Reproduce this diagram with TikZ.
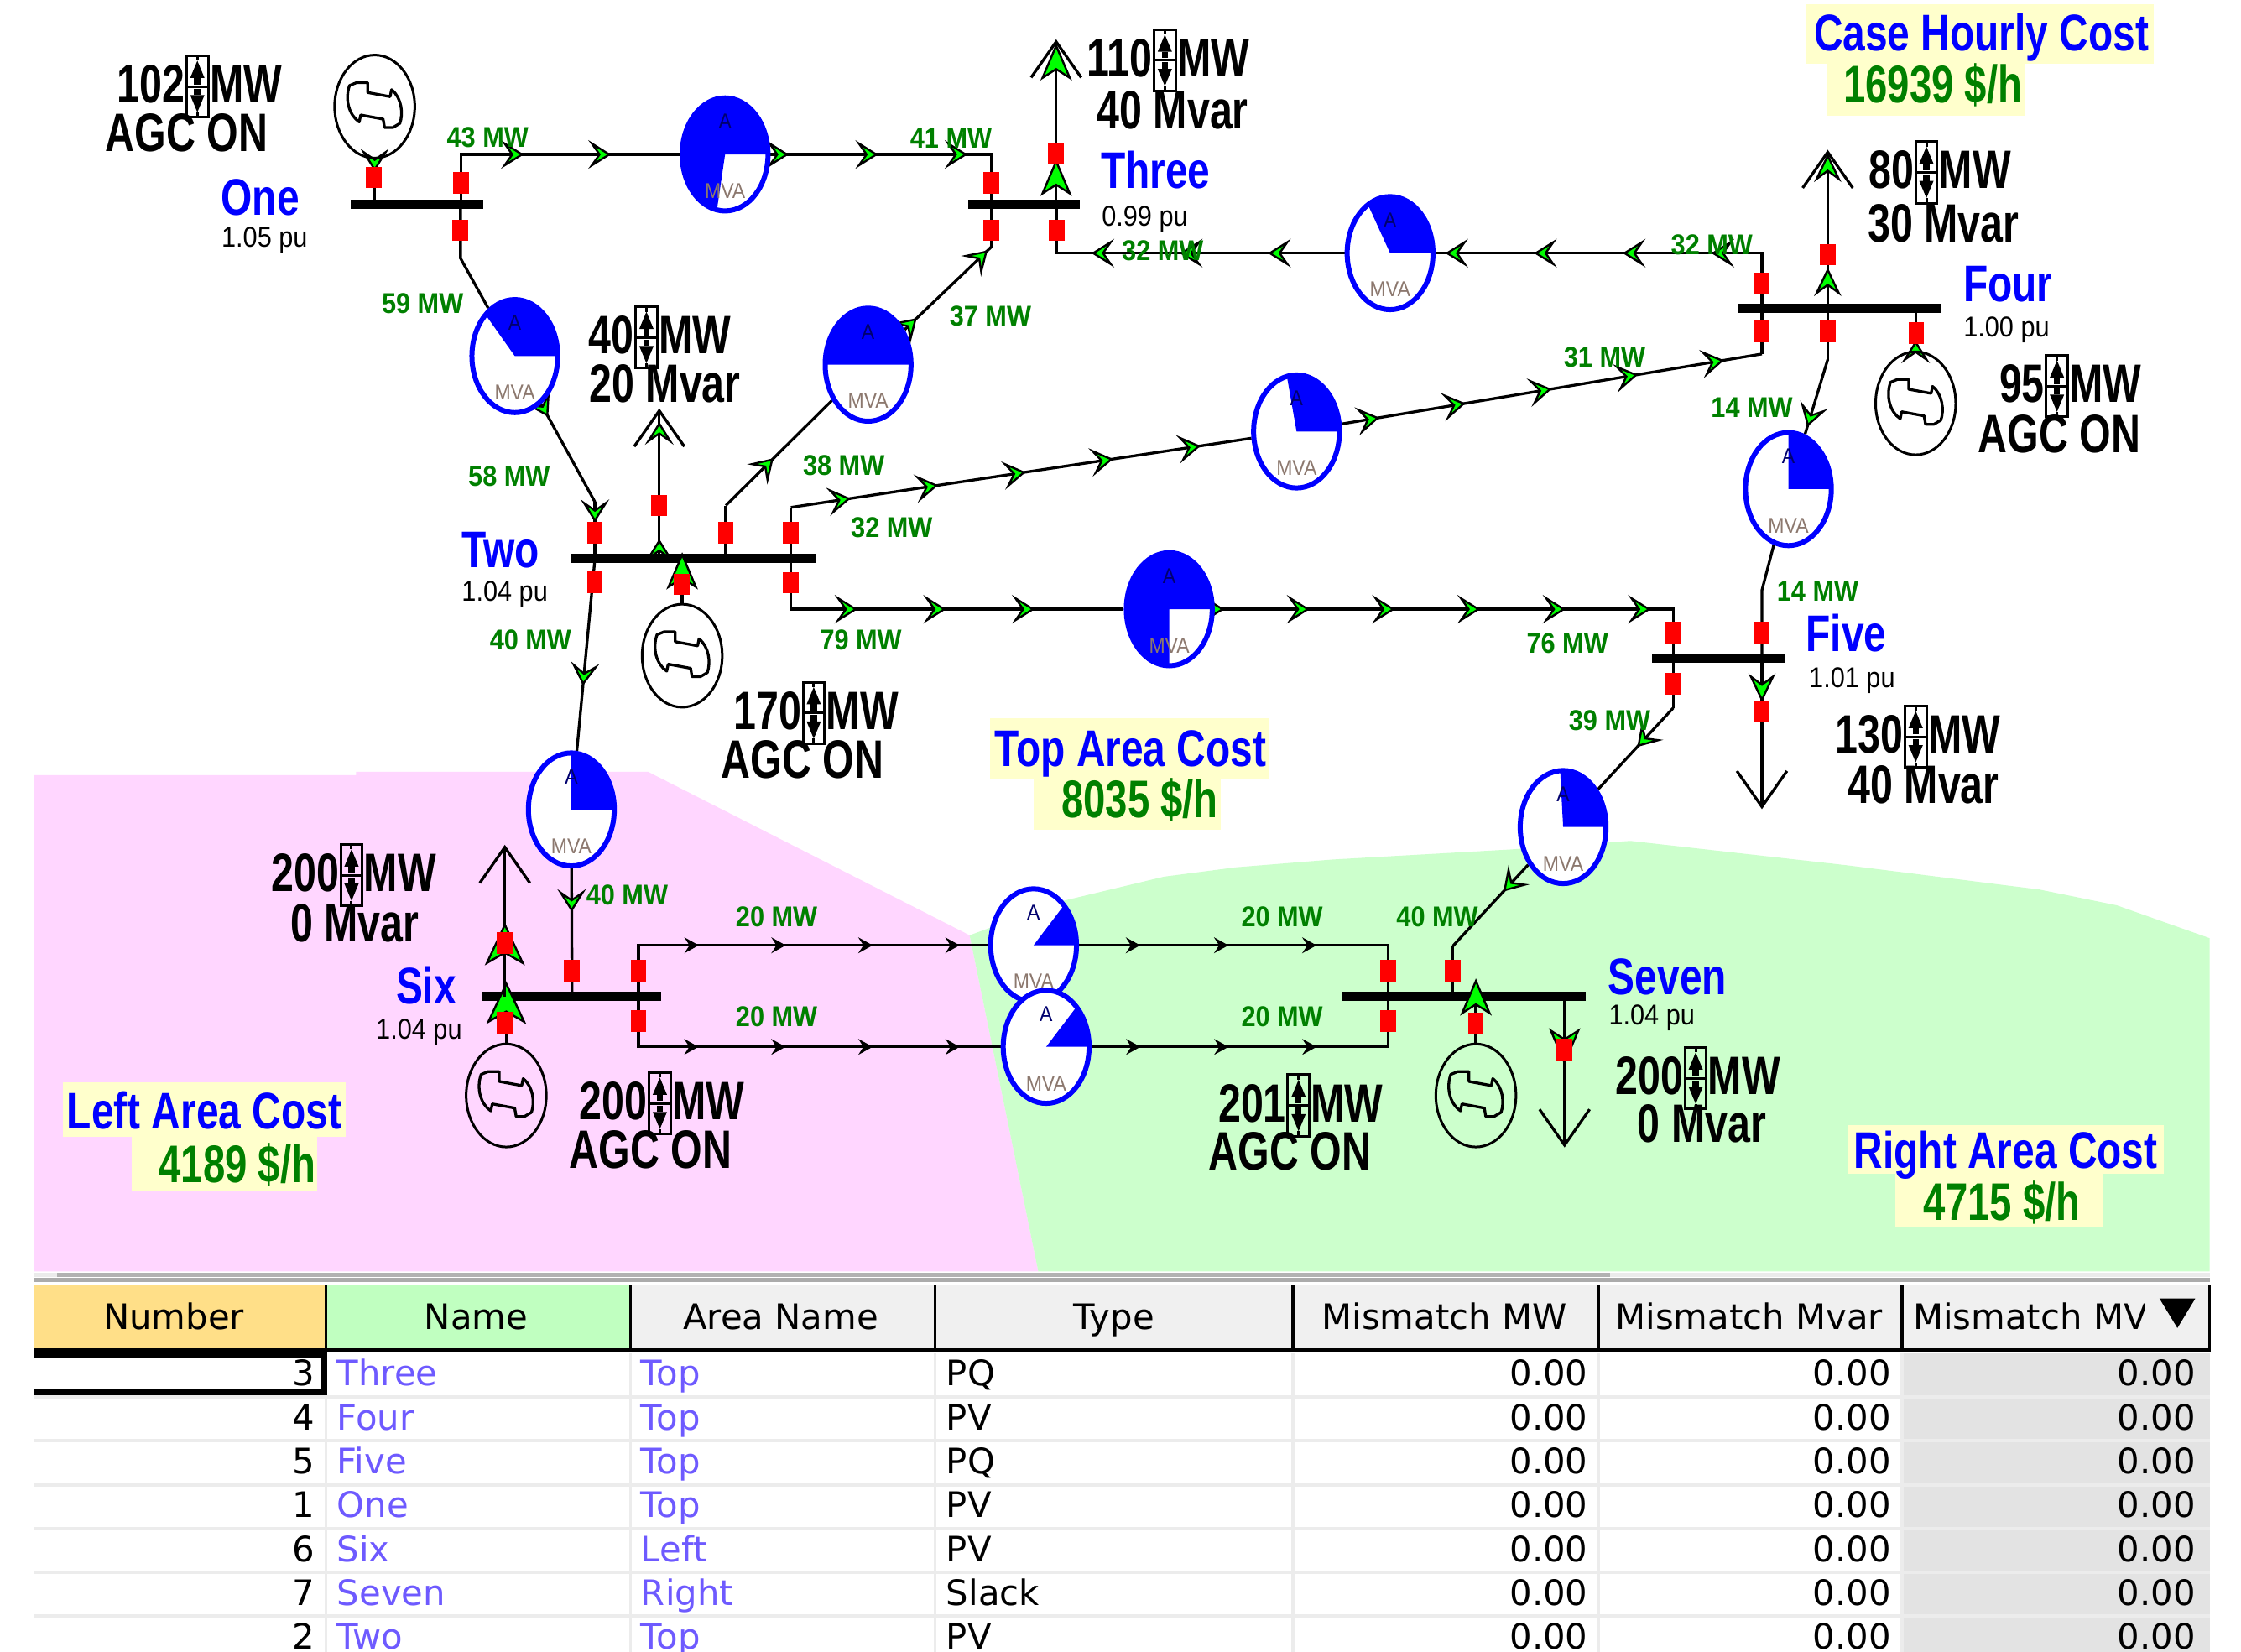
\documentclass[tikz,border=0pt]{standalone}
\usepackage{fontspec}
\newfontfamily\bigfam[FakeStretch=0.75]{Liberation Sans}
\newfontfamily\namefam[FakeStretch=0.78]{Liberation Sans}
\newfontfamily\smallfam[FakeStretch=0.9]{Liberation Sans}
\newfontfamily\tablefam{DejaVu Sans}
\usetikzlibrary{arrows.meta,decorations.markings,shapes.geometric}
\pgfdeclarelayer{bgl}
\pgfdeclarelayer{wl}
\pgfsetlayers{bgl,wl,main}
\definecolor{pwblue}{RGB}{0,0,255}
\definecolor{flowgreen}{RGB}{0,128,0}
\definecolor{arrgreen}{RGB}{0,255,0}
\definecolor{pinkarea}{RGB}{255,214,255}
\definecolor{greenarea}{RGB}{204,255,204}
\definecolor{costbg}{RGB}{255,255,204}
\definecolor{hdrnum}{RGB}{255,223,136}
\definecolor{hdrname}{RGB}{192,255,192}
\definecolor{hdrgray}{RGB}{240,240,240}
\definecolor{colgray}{RGB}{227,227,227}
\definecolor{rowsep}{RGB}{236,236,236}
\definecolor{tblblue}{RGB}{110,90,255}
\definecolor{mvagray}{RGB}{140,120,110}
\definecolor{adark}{RGB}{0,0,110}
\newcommand{\lblf}{\bigfam\bfseries\fontsize{0.378cm}{0.4cm}\selectfont}
\newcommand{\namf}{\namefam\bfseries\fontsize{0.36cm}{0.38cm}\selectfont}
\newcommand{\costf}{\bigfam\bfseries\fontsize{0.37cm}{0.39cm}\selectfont}
\newcommand{\puf}{\smallfam\fontsize{0.2cm}{0.22cm}\selectfont}
\newcommand{\flf}{\smallfam\bfseries\fontsize{0.2cm}{0.22cm}\selectfont}
\newcommand{\tblf}{\tablefam\fontsize{0.245cm}{0.27cm}\selectfont}
\newcommand{\pief}{\smallfam\fontsize{0.15cm}{0.16cm}\selectfont}
\tikzset{
 flowtip/.tip={Stealth[length=0.16cm,width=0.2cm,inset=0.07cm,fill=arrgreen,line width=0.4pt]},
 medtip/.tip={Stealth[length=0.2cm,width=0.19cm,inset=0.07cm,fill=arrgreen,line width=0.4pt]},
 bigtip/.tip={Stealth[length=0.26cm,width=0.22cm,inset=0.07cm,fill=arrgreen,line width=0.4pt]},
 hugetip/.tip={Stealth[length=0.3cm,width=0.28cm,inset=0.08cm,fill=arrgreen,line width=0.4pt]},
 blktip/.tip={Stealth[length=0.1cm,width=0.11cm,inset=0.035cm]},
 loadtip/.tip={Straight Barb[length=0.25cm,width=0.35cm]},
 arrs/.style 2 args={postaction={decorate,decoration={markings,mark=between positions #2 with {\arrow{#1}}}}},
 arr1/.style 2 args={postaction={decorate,decoration={markings,mark=at position #2 with {\arrow{#1}}}}},
 wire/.style={draw=black,line width=0.55pt},
 bus/.style={rectangle,fill=black,inner sep=0pt,minimum height=0.065cm},
 brk/.style={rectangle,fill=red,inner sep=0pt,minimum width=0.11cm,minimum height=0.15cm},
 pie/.style={ellipse,draw=pwblue,line width=1pt,fill=white,inner sep=0pt,minimum width=0.6cm,minimum height=0.79cm},
 gen/.style={ellipse,draw=black,line width=0.5pt,inner sep=0pt,minimum width=0.56cm,minimum height=0.72cm},
 big/.style={font=\lblf,inner sep=0pt},
 bname/.style={font=\namf,text=pwblue,inner sep=0pt,anchor=base},
 pu/.style={font=\puf,inner sep=0pt,anchor=base},
 flow/.style={font=\flf,text=flowgreen,inner sep=0pt,anchor=base},
 costt/.style={font=\namf,text=pwblue,inner sep=0pt,anchor=base},
 costv/.style={font=\costf,text=flowgreen,inner sep=0pt,anchor=base},
 tbl/.style={font=\tblf,inner sep=0pt},
 spin/.pic={
  \draw[line width=0.5pt] (-7.5,-21.5) rectangle (7.5,21.5);
  \fill (0,-18) -- (-5,-6) -- (5,-6) -- cycle;
  \fill (0,18) -- (-5,6) -- (5,6) -- cycle;
  \fill (-2.2,-6) rectangle (2.2,-1.5);
  \fill (-2.2,6) rectangle (2.2,1.5);
  \draw[line width=0.5pt] (0,-21.5) -- (0,-18) (0,21.5) -- (0,18) (-7.5,0) -- (7.5,0);
 },
 gsym/.pic={
  \draw[line width=0.55pt,line join=round] (-17.6,-14.7) -- (-12.7,-16.7) -- (-4.9,-16.7) -- (-4.9,-9.8) -- (10.8,-6.9) -- (11.8,-11.8) .. controls (19,-6) and (20,5) .. (17.6,11.8) -- (12.7,14.7) -- (6.9,14.7) -- (5.9,8.8) -- (-9.8,5.9) -- (-10.8,10.8) .. controls (-18,6) and (-21,-5) .. cycle;
 },
}
\newcommand{\pwedge}[2]{%
 \fill[pwblue] (#1.center) -- ++(0:0.3cm and 0.395cm) arc[start angle=0,end angle=#2,x radius=0.3cm,y radius=0.395cm] -- cycle;
 \node[font=\pief,text=adark,inner sep=0pt] (#1A) at ([yshift=0.23cm]#1.center) {A};
 \node[font=\pief,text=mvagray,inner sep=0pt] (#1M) at ([yshift=-0.255cm]#1.center) {MVA};}
\newcommand{\biglbl}[7]{%
 \node[big,anchor=base east] (#1n) at ({#2-8},#3) {#4};
 \pic at (#2,{#3-11.5}) {spin};
 \node[big,anchor=base west] (#1u) at ({#2+8},#3) {MW};
 \node[big,anchor=base] (#1s) at (#6,#7) {#5};}
\begin{document}
\begin{tikzpicture}[x=0.01cm,y=-0.01cm]
\useasboundingbox (0,0) rectangle (1567,1155);
\clip (0,0) rectangle (1567,1155);
\begin{pgfonlayer}{bgl}
\fill[white] (0,0) rectangle (1567,1155);
\fill[pinkarea] (23.6,542) -- (249,542) -- (249,539.6) -- (453,539.6) -- (678,654) -- (726,889) -- (23.6,889) -- cycle;
\fill[greenarea] (678,654) -- (743,630) -- (814,613) -- (864,606.5) -- (932,601) -- (1056,594) -- (1140,588) -- (1291,605) -- (1426,622) -- (1480,633) -- (1545,656) -- (1545,889) -- (726,889) -- cycle;
\end{pgfonlayer}
% cost backgrounds
\fill[costbg] (1263,3) rectangle (1506,44.5);
\fill[costbg] (1277.6,44.5) rectangle (1416,81);
\fill[costbg] (692,502) rectangle (887.4,545);
\fill[costbg] (722.5,545) rectangle (853.8,580);
\fill[costbg] (43.8,757) rectangle (241.8,795);
\fill[costbg] (92,795) rectangle (222,833);
\fill[costbg] (1292,787) rectangle (1513,821);
\fill[costbg] (1325,821) rectangle (1470,858);
% buses
\node[bus,minimum width=0.93cm] (b1) at (291.5,143) {};
\node[bus,minimum width=1.71cm] (b2) at (484.5,390.5) {};
\node[bus,minimum width=0.78cm] (b3) at (716,143) {};
\node[bus,minimum width=1.42cm] (b4) at (1286,215.5) {};
\node[bus,minimum width=0.93cm] (b5) at (1201.5,460.4) {};
\node[bus,minimum width=1.25cm] (b6) at (399.5,696.7) {};
\node[bus,minimum width=1.71cm] (b7) at (1023.5,696.7) {};
% generators
\node[gen] (g1) at (262,74.5) {}; \pic at (g1) {gsym};
\node[gen] (g2) at (477,458.5) {}; \pic at (g2) {gsym};
\node[gen] (g4) at (1339.5,282) {}; \pic at (g4) {gsym};
\node[gen] (g6) at (354,766) {}; \pic at (g6) {gsym};
\node[gen] (g7) at (1032,766) {}; \pic at (g7) {gsym};
% pies
\node[pie] (p13) at (507,108) {}; \pwedge{p13}{259}
\node[pie] (p12) at (360,249) {}; \pwedge{p12}{133}
\node[pie] (p23) at (607,255) {}; \pwedge{p23}{180}
\node[pie] (p24) at (906.6,301.7) {}; \pwedge{p24}{103}
\node[pie] (p34) at (972,177) {}; \pwedge{p34}{121}
\node[pie] (p45) at (1250.5,342) {}; \pwedge{p45}{90}
\node[pie] (p25) at (817.6,426) {}; \pwedge{p25}{270}
\node[pie] (p26) at (399.5,566) {}; \pwedge{p26}{90}
\node[pie] (p57) at (1093,578.3) {}; \pwedge{p57}{94}
\node[pie] (p67u) at (722.7,661) {}; \pwedge{p67u}{45}
\node[pie] (p67l) at (731.5,732) {}; \pwedge{p67l}{45}
% generator feeders with large flow arrows
\draw[wire,-{bigtip}] (g2.north) -- ++(0,-35.5);
\draw[wire,-{hugetip}] (g6.north) -- ++(0,-43);
\draw[wire,-{bigtip}] (g7.north) -- ++(0,-45);
% loads
\coordinate (L2) at (461,285.5);
\coordinate (L3) at (738.5,27.5);
\coordinate (L4) at (1278,104.7);
\coordinate (L5) at (1232,565.8);
\coordinate (L6) at (353,590.7);
\coordinate (L7) at (1094,802.4);
\draw[wire,-{loadtip},arrs={flowtip}{0.13 and 0.92 step 0.78}] (b2 -| L2) -- (L2);
\draw[wire,-{loadtip},arrs={bigtip}{0.277 and 0.98 step 0.7}] (b3 -| L3) -- (L3);
\draw[wire,-{loadtip},arrs={medtip}{0.257 and 0.98 step 0.72}] (b4 -| L4) -- (L4);
\draw[wire,-{loadtip},arr1={medtip}{0.29}] (b5 -| L5) -- (L5);
\draw[wire,-{loadtip},arr1={hugetip}{0.488}] (b6 -| L6) -- (L6);
\draw[wire,-{loadtip},arr1={bigtip}{0.457}] (b7 -| L7) -- (L7);
% breakers
\node[brk] (k1g) at (261.5,124) {};
\node[brk] (k13a) at (322.5,128) {};
\node[brk] (k13b) at (693,128) {};
\node[brk] (k12a) at (322,161) {};
\node[brk] (k12b) at (416,372.5) {};
\node[brk] (k2L) at (461,353.5) {};
\node[brk] (k23a) at (507.5,372.5) {};
\node[brk] (k24a) at (553,372.5) {};
\node[brk] (k25a) at (553,407.5) {};
\node[brk] (k26a) at (416,407) {};
\node[brk] (k2g) at (476.5,408.5) {};
\node[brk] (k3L) at (738.5,107) {};
\node[brk] (k23b) at (693,161) {};
\node[brk] (k34a) at (739,161) {};
\node[brk] (k34b) at (1232,198) {};
\node[brk] (k4L) at (1278,178) {};
\node[brk] (k24b) at (1232,231.6) {};
\node[brk] (k45a) at (1278,231.6) {};
\node[brk] (k4g) at (1340,233) {};
\node[brk] (k25b) at (1170,442.5) {};
\node[brk] (k45b) at (1232,442.5) {};
\node[brk] (k5L) at (1232,497.6) {};
\node[brk] (k57a) at (1170,478) {};
\node[brk] (k26b) at (400,678.7) {};
\node[brk] (k6L) at (353,659.5) {};
\node[brk] (k6g) at (353,715) {};
\node[brk] (k67a) at (446.4,678.7) {};
\node[brk] (k67c) at (446.4,714) {};
\node[brk] (k67b) at (970.5,678.7) {};
\node[brk] (k67d) at (970.5,714) {};
\node[brk] (k57b) at (1016,678.7) {};
\node[brk] (k7g) at (1032,715.7) {};
\node[brk] (k7L) at (1094,734) {};
% branches
\begin{pgfonlayer}{wl}
\draw[wire,arrs={flowtip}{0.42 and 0.76 step 0.325}] (b1 -| k13a) |- (p13.west);
\draw[wire,arrs={flowtip}{0.068 and 0.73 step 0.33}] (p13.east) -| (b3 -| k13b);
\draw[wire] (b1 -| k12a) -- (322,180.6) -- (p12);
\draw[wire,arr1={flowtip}{0.13}] (p12) -- (416,351);
\draw[wire,arr1={flowtip}{0.36}] (416,351) -- (b2 -| k12b);
\draw[wire] (b2 -| k23a) -- (507.5,353.5);
\draw[wire,arr1={flowtip}{0.45}] (507.5,353.5) -- (p23);
\draw[wire,arrs={flowtip}{0.14 and 0.97 step 0.82}] (p23) -- (693,172.8);
\draw[wire] (693,172.8) -- (b3 -| k23b);
\draw[wire] (b2 -| k24a) -- (553,354.8);
\draw[wire,arrs={flowtip}{0.13 and 0.9 step 0.19}] (553,354.8) -- (p24);
\draw[wire,arrs={flowtip}{0.09 and 0.93 step 0.205}] (p24) -- (1232,247.5);
\draw[wire] (1232,247.5) -- (b4 -| k24b);
\draw[wire,arrs={flowtip}{0.306 and 0.8 step 0.231}] (b2 -| k25a) |- (p25.west);
\draw[wire,arrs={flowtip}{0.019 and 0.87 step 0.168}] (p25.east) -| (b5 -| k25b);
\draw[wire,arr1={flowtip}{0.66}] (b2 -| k26a) -- (p26);
\draw[wire,arr1={flowtip}{0.34}] (p26) -- (b6 -| k26b);
\draw[wire,arrs={flowtip}{0.277 and 0.98 step 0.2325}] (b4 -| k34b) |- (p34.east);
\draw[wire,arrs={flowtip}{0.228 and 0.76 step 0.2625}] (p34.west) -| (b3 -| k34a);
\draw[wire] (b4 -| k45a) -- (1278,251.4);
\draw[wire,arr1={flowtip}{0.9}] (1278,251.4) -- (p45);
\draw[wire] (p45) -- (1232,412.7) -- (b5 -| k45b);
\draw[wire] (b5 -| k57a) -- (1170,495);
\draw[wire,arr1={flowtip}{0.48}] (1170,495) -- (p57);
\draw[wire,arr1={flowtip}{0.33}] (p57) -- (1016,661.4);
\draw[wire] (1016,661.4) -- (b7 -| k57b);
\draw[wire,arrs={blktip}{0.278 and 0.94 step 0.217}] (b6 -| k67a) |- (p67u.west);
\draw[wire,arrs={blktip}{0.17 and 0.67 step 0.245}] (p67u.east) -| (b7 -| k67b);
\draw[wire,arrs={blktip}{0.268 and 0.91 step 0.211}] (b6 -| k67c) |- (p67l.west);
\draw[wire,arrs={blktip}{0.141 and 0.66 step 0.254}] (p67l.east) -| (b7 -| k67d);
\draw[wire,arr1={flowtip}{0.27}] (g1.south) -- (b1 -| g1);
\draw[wire,arr1={flowtip}{0.24}] (g4.north) -- (b4 -| g4);
\end{pgfonlayer}
% bus names and voltages
\node[bname] (n1) at (182,150.6) {One};
\node[bname] (n2) at (350,396.6) {Two};
\node[bname] (n3) at (808,132) {Three};
\node[bname] (n4) at (1404,210.8) {Four};
\node[bname] (n5) at (1291,455.8) {Five};
\node[bname] (n6) at (298,702) {Six};
\node[bname] (n7) at (1166,695.4) {Seven};
\node[pu] (v1) at (185,172.8) {1.05 pu};
\node[pu] (v2) at (353,420.5) {1.04 pu};
\node[pu] (v3) at (800.5,158.4) {0.99 pu};
\node[pu] (v4) at (1403,235.6) {1.00 pu};
\node[pu] (v5) at (1295,480.7) {1.01 pu};
\node[pu] (v6) at (293,726.7) {1.04 pu};
\node[pu] (v7) at (1155,716.5) {1.04 pu};
% flow labels
\node[flow] (f1) at (341,103) {43 MW};
\node[flow] (f2) at (665,103.5) {41 MW};
\node[flow] (f3) at (295.5,219) {59 MW};
\node[flow] (f4) at (356,340) {58 MW};
\node[flow] (f5) at (692.5,227.7) {37 MW};
\node[flow] (f6) at (590,332.5) {38 MW};
\node[flow] (f7) at (813,182) {32 MW};
\node[flow] (f8) at (1197,178) {32 MW};
\node[flow] (f9) at (623.5,375.7) {32 MW};
\node[flow] (f10) at (1122,256.6) {31 MW};
\node[flow] (f11) at (1225,292) {14 MW};
\node[flow] (f12) at (1271,420.5) {14 MW};
\node[flow] (f13) at (602,454.6) {79 MW};
\node[flow] (f14) at (1096,457) {76 MW};
\node[flow] (f15) at (371,454.6) {40 MW};
\node[flow] (f16) at (438.5,632.6) {40 MW};
\node[flow] (f17) at (1125.5,510.8) {39 MW};
\node[flow] (f18) at (1005,648) {40 MW};
\node[flow] (f19) at (543,648) {20 MW};
\node[flow] (f20) at (543,717.7) {20 MW};
\node[flow] (f21) at (896.5,648) {20 MW};
\node[flow] (f22) at (896.5,717.7) {20 MW};
% generator and load labels
\biglbl{G1}{138}{72}{102}{AGC ON}{130.5}{106}
\biglbl{Ld2}{452}{247.5}{40}{20 Mvar}{465}{281.6}
\biglbl{Ld3}{814.5}{53.7}{110}{40 Mvar}{820}{90}
\biglbl{Ld4}{1347}{132}{80}{30 Mvar}{1359}{169}
\biglbl{G4}{1438.3}{281.5}{95}{AGC ON}{1440}{316.8}
\biglbl{G2}{569}{510}{170}{AGC ON}{561}{544}
\biglbl{Ld5}{1339.5}{526.6}{130}{40 Mvar}{1345}{561.8}
\biglbl{Ld6}{245.8}{623.4}{200}{0 Mvar}{248}{658.7}
\biglbl{G6}{461.4}{783}{200}{AGC ON}{455}{817}
\biglbl{G7}{908}{784.5}{201}{AGC ON}{902}{818}
\biglbl{Ld7}{1185.7}{765.4}{200}{0 Mvar}{1190}{798.7}
% costs
\node[costt] (c1) at (1385.5,35.4) {Case Hourly Cost};
\node[costv] (c2) at (1351.5,72) {16939 \$/h};
\node[costt] (c3) at (790.5,535.7) {Top Area Cost};
\node[costv] (c4) at (797,572) {8035 \$/h};
\node[costt] (c5) at (142.8,789.5) {Left Area Cost};
\node[costv] (c6) at (166,827) {4189 \$/h};
\node[costt] (c7) at (1402.5,817) {Right Area Cost};
\node[costv] (c8) at (1400,853.5) {4715 \$/h};
% scrollbar
\fill[black!8] (24,890) rectangle (1545,893);
\fill[black!30] (40,890) rectangle (1126,893);
\fill[black!33] (24,893.5) rectangle (1545,896.5);
% table
\fill[hdrnum] (24,899) rectangle (228,943);
\fill[hdrname] (228,899) rectangle (441,943);
\fill[hdrgray] (441,899) rectangle (1545,943);
\fill[colgray] (1330,946) rectangle (1545,1155);
\foreach \i in {1,...,6} \fill[rowsep] (24,{946+30.7*\i-1.2}) rectangle (1545,{946+30.7*\i+1.2});
\foreach \xx in {228,441,654,904,1118,1330} \fill[rowsep] ({\xx-1},946) rectangle ({\xx+1},1155);
\foreach \xx in {228,441,654,904,1118,1330,1545} \fill[black] ({\xx-1},899) rectangle ({\xx+1},943);
\fill[black] (24,943) rectangle (1546,945.5);
\fill[black] (24,943) rectangle (229,975.5);
\fill[white] (24,949) rectangle (224.5,971.8);
\node[tbl,anchor=base] (h1) at (121.5,929.6) {Number};
\node[tbl,anchor=base] (h2) at (333,929.6) {Name};
\node[tbl,anchor=base] (h3) at (546,929.6) {Area Name};
\node[tbl,anchor=base] (h4) at (779,929.6) {Type};
\node[tbl,anchor=base] (h5) at (1010,929.6) {Mismatch MW};
\node[tbl,anchor=base] (h6) at (1223,929.6) {Mismatch Mvar};
\begin{scope}
\clip (1332,899) rectangle (1500,943);
\node[tbl,anchor=base west] (h7) at (1337,929.6) {Mismatch MVA};
\end{scope}
\fill[black] (1510,908) -- (1535,908) -- (1522.5,928.6) -- cycle;
\foreach \rnum/\rname/\rarea/\rtype [count=\i from 0] in {3/Three/Top/PQ,4/Four/Top/PV,5/Five/Top/PQ,1/One/Top/PV,6/Six/Left/PV,7/Seven/Right/Slack,2/Two/Top/PV} {
 \node[tbl,anchor=base east] (rn\i) at (221,{969+30.7*\i}) {\rnum};
 \node[tbl,text=tblblue,anchor=base west] (rm\i) at (235,{969+30.7*\i}) {\rname};
 \node[tbl,text=tblblue,anchor=base west] (ra\i) at (447.5,{969+30.7*\i}) {\rarea};
 \node[tbl,anchor=base west] (rt\i) at (661,{969+30.7*\i}) {\rtype};
 \node[tbl,anchor=base east] (rw\i) at (1111,{969+30.7*\i}) {0.00};
 \node[tbl,anchor=base east] (rv\i) at (1323,{969+30.7*\i}) {0.00};
 \node[tbl,anchor=base east] (rs\i) at (1536,{969+30.7*\i}) {0.00};
}
\end{tikzpicture}
\end{document}
